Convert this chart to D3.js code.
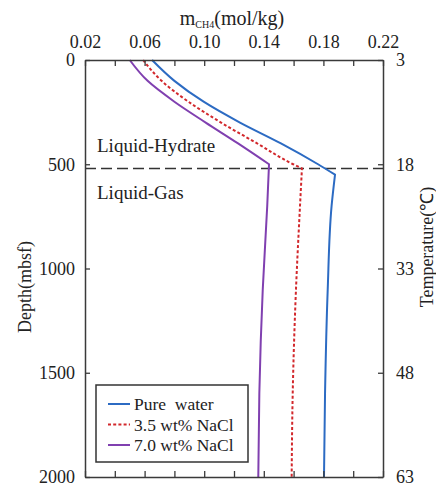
<!DOCTYPE html>
<html>
<head>
<meta charset="utf-8">
<script src="https://cdn.jsdelivr.net/npm/d3@7/dist/d3.min.js"></script>
<style>
  html, body { margin: 0; padding: 0; background: #fff; }
  svg text { font-family: "Liberation Serif", "Times New Roman", serif; fill: #222; }
</style>
</head>
<body>
<svg id="chart" width="436" height="487" font-family="Liberation Serif, Times New Roman, serif"></svg>
<script>
// Methane solubility (mol/kg) versus depth for three pore-water salinities
const seriesNames = ["Pure  water", "3.5 wt% NaCl", "7.0 wt% NaCl"];
const seriesColors = ["#2c6bc3", "#d2282c", "#8040b0"];

// Hydrate-stable (liquid-hydrate) branch: depth (mbsf) and solubility
const pureUpperDepth = [0, 100, 200, 300, 400, 500, 550];
const pureUpperValue = [0.065, 0.080, 0.0996, 0.124, 0.1515, 0.1764, 0.1878];
const naCl35UpperDepth = [0, 100, 200, 300, 400, 500, 520];
const naCl35UpperValue = [0.059, 0.0714, 0.0894, 0.1113, 0.1355, 0.1597, 0.1656];
const naCl70UpperDepth = [0, 100, 200, 300, 400, 500];
const naCl70UpperValue = [0.050, 0.062, 0.080, 0.101, 0.1227, 0.1435];

// Liquid-gas branch below the phase boundary
const pureLowerDepth = [550, 700, 1100, 1600, 2000];
const pureLowerValue = [0.1878, 0.1855, 0.1829, 0.1811, 0.1804];
const naCl35LowerDepth = [520, 700, 1100, 1600, 2000];
const naCl35LowerValue = [0.1656, 0.1643, 0.1616, 0.1594, 0.1587];
const naCl70LowerDepth = [500, 700, 1100, 1600, 2000];
const naCl70LowerValue = [0.1435, 0.1423, 0.1393, 0.1370, 0.1363];

const boundaryDepth = 520;

// Axis ticks
const mTicks = [0.02, 0.04, 0.06, 0.08, 0.10, 0.12, 0.14, 0.16, 0.18, 0.20, 0.22];
const mLabelTicks = [0.02, 0.06, 0.10, 0.14, 0.18, 0.22];
const depthTicks = [0, 500, 1000, 1500, 2000];
const tempLabels = [3, 18, 33, 48, 63];

const svg = d3.select("#chart");
const plotLeft = 85, plotRight = 383, plotTop = 60, plotBottom = 477;
const axisColor = "#3a3a3a";
const serif = "Liberation Serif, Times New Roman, serif";

const x = d3.scaleLinear().domain([0.02, 0.22]).range([plotLeft, plotRight]);
const y = d3.scaleLinear().domain([0, 2000]).range([plotTop, plotBottom]);

// Curves
const upperLine = d3.line().x(d => x(d[1])).y(d => y(d[0])).curve(d3.curveMonotoneY);
const lowerLine = d3.line().x(d => x(d[1])).y(d => y(d[0])).curve(d3.curveMonotoneY);

const series = [
  { up: d3.zip(pureUpperDepth, pureUpperValue), low: d3.zip(pureLowerDepth, pureLowerValue), dash: null },
  { up: d3.zip(naCl35UpperDepth, naCl35UpperValue), low: d3.zip(naCl35LowerDepth, naCl35LowerValue), dash: "3,2.2" },
  { up: d3.zip(naCl70UpperDepth, naCl70UpperValue), low: d3.zip(naCl70LowerDepth, naCl70LowerValue), dash: null }
];

// Phase boundary
svg.append("line")
  .attr("x1", plotLeft).attr("x2", plotRight + 3)
  .attr("y1", y(boundaryDepth)).attr("y2", y(boundaryDepth))
  .attr("stroke", "#333").attr("stroke-width", 1.5)
  .attr("stroke-dasharray", "11,5");

series.forEach((s, i) => {
  const d = upperLine(s.up) + lowerLine(s.low).replace(/^M/, "L");
  svg.append("path")
    .attr("d", d)
    .attr("fill", "none")
    .attr("stroke", seriesColors[i])
    .attr("stroke-width", 2)
    .attr("stroke-linejoin", "miter")
    .attr("stroke-dasharray", s.dash);
});

// Axes with inward ticks
const fmt = d3.format(".2f");
const topAxis = d3.axisTop(x).tickValues(mTicks).tickSizeInner(-6).tickSizeOuter(0).tickPadding(12)
  .tickFormat(d => mLabelTicks.some(v => Math.abs(v - d) < 1e-9) ? fmt(d) : "");
const bottomAxis = d3.axisBottom(x).tickValues(mTicks).tickSizeInner(-6).tickSizeOuter(0).tickFormat("");
const leftAxis = d3.axisLeft(y).tickValues(depthTicks).tickSizeInner(-5).tickSizeOuter(0).tickPadding(10)
  .tickFormat(d3.format("d"));
const rightAxis = d3.axisRight(y).tickValues(depthTicks).tickSizeInner(-5).tickSizeOuter(0).tickPadding(13)
  .tickFormat((d, i) => tempLabels[i]);

function styleAxis(g) {
  g.attr("font-family", serif).attr("font-size", 18);
  g.select(".domain").attr("stroke", axisColor).attr("stroke-width", 1.5);
  g.selectAll(".tick line").attr("stroke", axisColor).attr("stroke-width", 1.3);
  g.selectAll(".tick text").attr("fill", "#222");
}

svg.append("g").attr("transform", `translate(0,${plotTop})`).call(topAxis).call(styleAxis);
svg.append("g").attr("transform", `translate(0,${plotBottom})`).call(bottomAxis).call(styleAxis);
svg.append("g").attr("transform", `translate(${plotLeft},0)`).call(leftAxis).call(styleAxis);
svg.append("g").attr("transform", `translate(${plotRight},0)`).call(rightAxis).call(styleAxis)
  .selectAll(".tick text").attr("text-anchor", "start");

// Axis titles
const title = svg.append("text").attr("x", 232).attr("y", 25).attr("text-anchor", "middle").attr("font-size", 20);
title.append("tspan").text("m");
title.append("tspan").attr("font-size", 10).attr("dy", 3).text("CH4");
title.append("tspan").attr("dy", -3).text("(mol/kg)");

svg.append("text")
  .attr("transform", "translate(31,287) rotate(-90)")
  .attr("text-anchor", "middle").attr("font-size", 18)
  .text("Depth(mbsf)");

svg.append("text")
  .attr("transform", "translate(433,247) rotate(-90)")
  .attr("text-anchor", "middle").attr("font-size", 18)
  .text("Temperature(℃)");

// Region labels
svg.append("text").attr("x", 97).attr("y", 152).attr("font-size", 19).text("Liquid-Hydrate");
svg.append("text").attr("x", 97).attr("y", 199).attr("font-size", 19).text("Liquid-Gas");

// Legend
const lg = svg.append("g");
lg.append("rect").attr("x", 96).attr("y", 385).attr("width", 152).attr("height", 77)
  .attr("fill", "#fff").attr("stroke", "#333").attr("stroke-width", 1.5);
seriesNames.forEach((name, i) => {
  const ly = 404 + i * 20.5;
  lg.append("line").attr("x1", 108).attr("x2", 130).attr("y1", ly).attr("y2", ly)
    .attr("stroke", seriesColors[i]).attr("stroke-width", 2)
    .attr("stroke-dasharray", series[i].dash);
  lg.append("text").attr("x", 134).attr("y", ly + 6).attr("font-size", 17.5)
    .style("white-space", "pre").text(name);
});
</script>
</body>
</html>
